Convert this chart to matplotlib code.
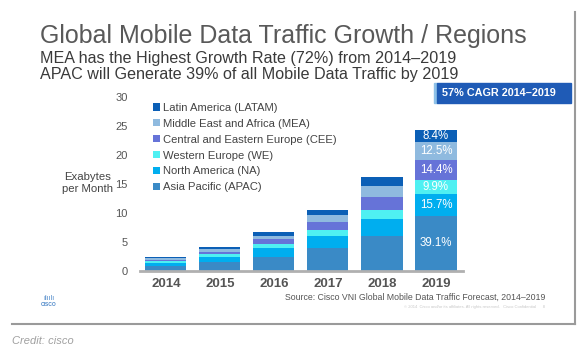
import matplotlib
matplotlib.use("Agg")
import matplotlib.pyplot as plt
from matplotlib.patches import Rectangle
from matplotlib.lines import Line2D

plt.rcParams['font.family'] = ['Liberation Sans', 'DejaVu Sans']

# data (exabytes per month), bottom to top of each stack
years = ["2014", "2015", "2016", "2017", "2018", "2019"]
regions = ["Asia Pacific (APAC)", "North America (NA)", "Western Europe (WE)",
           "Central and Eastern Europe (CEE)", "Middle East and Africa (MEA)",
           "Latin America (LATAM)"]
apac = [0.9, 1.6, 2.4, 4.0, 6.0, 9.5]
na = [0.45, 0.85, 1.6, 2.0, 2.9, 3.8]
we = [0.3, 0.4, 0.65, 1.1, 1.6, 2.4]
cee = [0.3, 0.45, 0.85, 1.4, 2.2, 3.5]
mea = [0.25, 0.45, 0.6, 1.2, 2.0, 3.0]
latam = [0.25, 0.35, 0.6, 0.9, 1.5, 2.1]
pct_2019 = ["39.1%", "15.7%", "9.9%", "14.4%", "12.5%", "8.4%"]
yticks = [0, 5, 10, 15, 20, 25, 30]

colors = ["#3a8ac6", "#00aeef", "#4ff0f2", "#6673d8", "#8fbadf", "#0b5fb6"]

W, H = 583, 354
fig = plt.figure(figsize=(W / 100, H / 100), dpi=100)
fig.patch.set_facecolor("white")


def fx(x):
    return x / W


def fy(y):
    return 1 - y / H


ax = fig.add_axes([fx(140), fy(271), (463 - 140) / W, (271 - 97) / H])
series = [apac, na, we, cee, mea, latam]
x = list(range(len(years)))
bottoms = [0.0] * len(years)
bars = []
for vals, col, name in zip(series, colors, regions):
    b = ax.bar(x, vals, width=0.76, bottom=bottoms, color=col, label=name)
    bars.append(b)
    bottoms = [bo + v for bo, v in zip(bottoms, vals)]

# percent labels on 2019 stack
base = 0.0
for vals, lab in zip(series, pct_2019):
    v = vals[-1]
    ax.text(x[-1], base + v / 2, lab, ha="center", va="center", color="white",
            fontsize=8.3)
    base += v

ax.set_xlim(-0.48, 5.5)
ax.set_ylim(0, 30)
ax.set_yticks(yticks)
ax.set_xticks(x)
ax.set_xticklabels(years, fontweight="bold", fontsize=9.5, color="#555555")
ax.tick_params(axis="y", length=0, pad=9, labelsize=8, labelcolor="#555555")
ax.tick_params(axis="x", length=0, pad=5)
for s in ["top", "right", "left"]:
    ax.spines[s].set_visible(False)
ax.spines["bottom"].set_color("#b0b0b0")
ax.spines["bottom"].set_linewidth(2)

handles = bars[::-1]
leg = ax.legend(handles, [h.get_label() for h in handles], loc="upper left",
                bbox_to_anchor=(fx(153), fy(103)), bbox_transform=fig.transFigure,
                frameon=False, fontsize=8.1, handlelength=0.6, handleheight=0.6,
                handletextpad=0.25, labelspacing=0.52, borderpad=0, borderaxespad=0)
for t in leg.get_texts():
    t.set_color("#444444")

# titles
fig.text(fx(40), fy(36), "Global Mobile Data Traffic Growth / Regions",
         fontsize=18, color="#595959", va="center", ha="left")
fig.text(fx(40), fy(58), "MEA has the Highest Growth Rate (72%) from 2014\u20132019",
         fontsize=11.6, color="#3a3a3a", va="center", ha="left")
fig.text(fx(40), fy(74), "APAC will Generate 39% of all Mobile Data Traffic by 2019",
         fontsize=11.6, color="#3a3a3a", va="center", ha="left")

fig.text(fx(88), fy(183), "Exabytes\nper Month", fontsize=8.2, color="#444444",
         ha="center", va="center", linespacing=1.35)

# CAGR box
fig.patches.append(Rectangle((fx(434), fy(103)), (437 - 434) / W, 20 / H,
                             transform=fig.transFigure, color="#8ec1e8"))
fig.patches.append(Rectangle((fx(437), fy(103)), (571 - 437) / W, 20 / H,
                             transform=fig.transFigure, color="#1f5bb6"))
fig.text(fx(442), fy(93), "57% CAGR 2014\u20132019", fontsize=7.8, color="white",
         fontweight="bold", ha="left", va="center")

# footer
fig.text(fx(545), fy(297), "Source: Cisco VNI Global Mobile Data Traffic Forecast, 2014\u20132019",
         fontsize=6.3, color="#555555", ha="right", va="center")
fig.text(fx(545), fy(307), "\u00a9 2014  Cisco and/or its affiliates. All rights reserved.   Cisco Confidential      8",
         fontsize=3, color="#c8c8c8", ha="right", va="center")
fig.text(fx(49), fy(298), "\u0131l\u0131\u0131l\u0131", fontsize=5, color="#4a86c8",
         ha="center", va="center")
fig.text(fx(49), fy(305), "CISCO", fontsize=3.5, color="#4a86c8", fontweight="bold",
         ha="center", va="center")

# slide frame
fig.lines.append(Line2D([fx(575), fx(575)], [fy(12), fy(324)], transform=fig.transFigure,
                        color="#9a9a9a", lw=1.5))
fig.lines.append(Line2D([fx(12), fx(575)], [fy(324), fy(324)], transform=fig.transFigure,
                        color="#9a9a9a", lw=1.5))

fig.text(fx(12), fy(341), "Credit: cisco", fontsize=8, color="#a0a0a0",
         style="italic", ha="left", va="center")

fig.savefig("out.png", dpi=100)
